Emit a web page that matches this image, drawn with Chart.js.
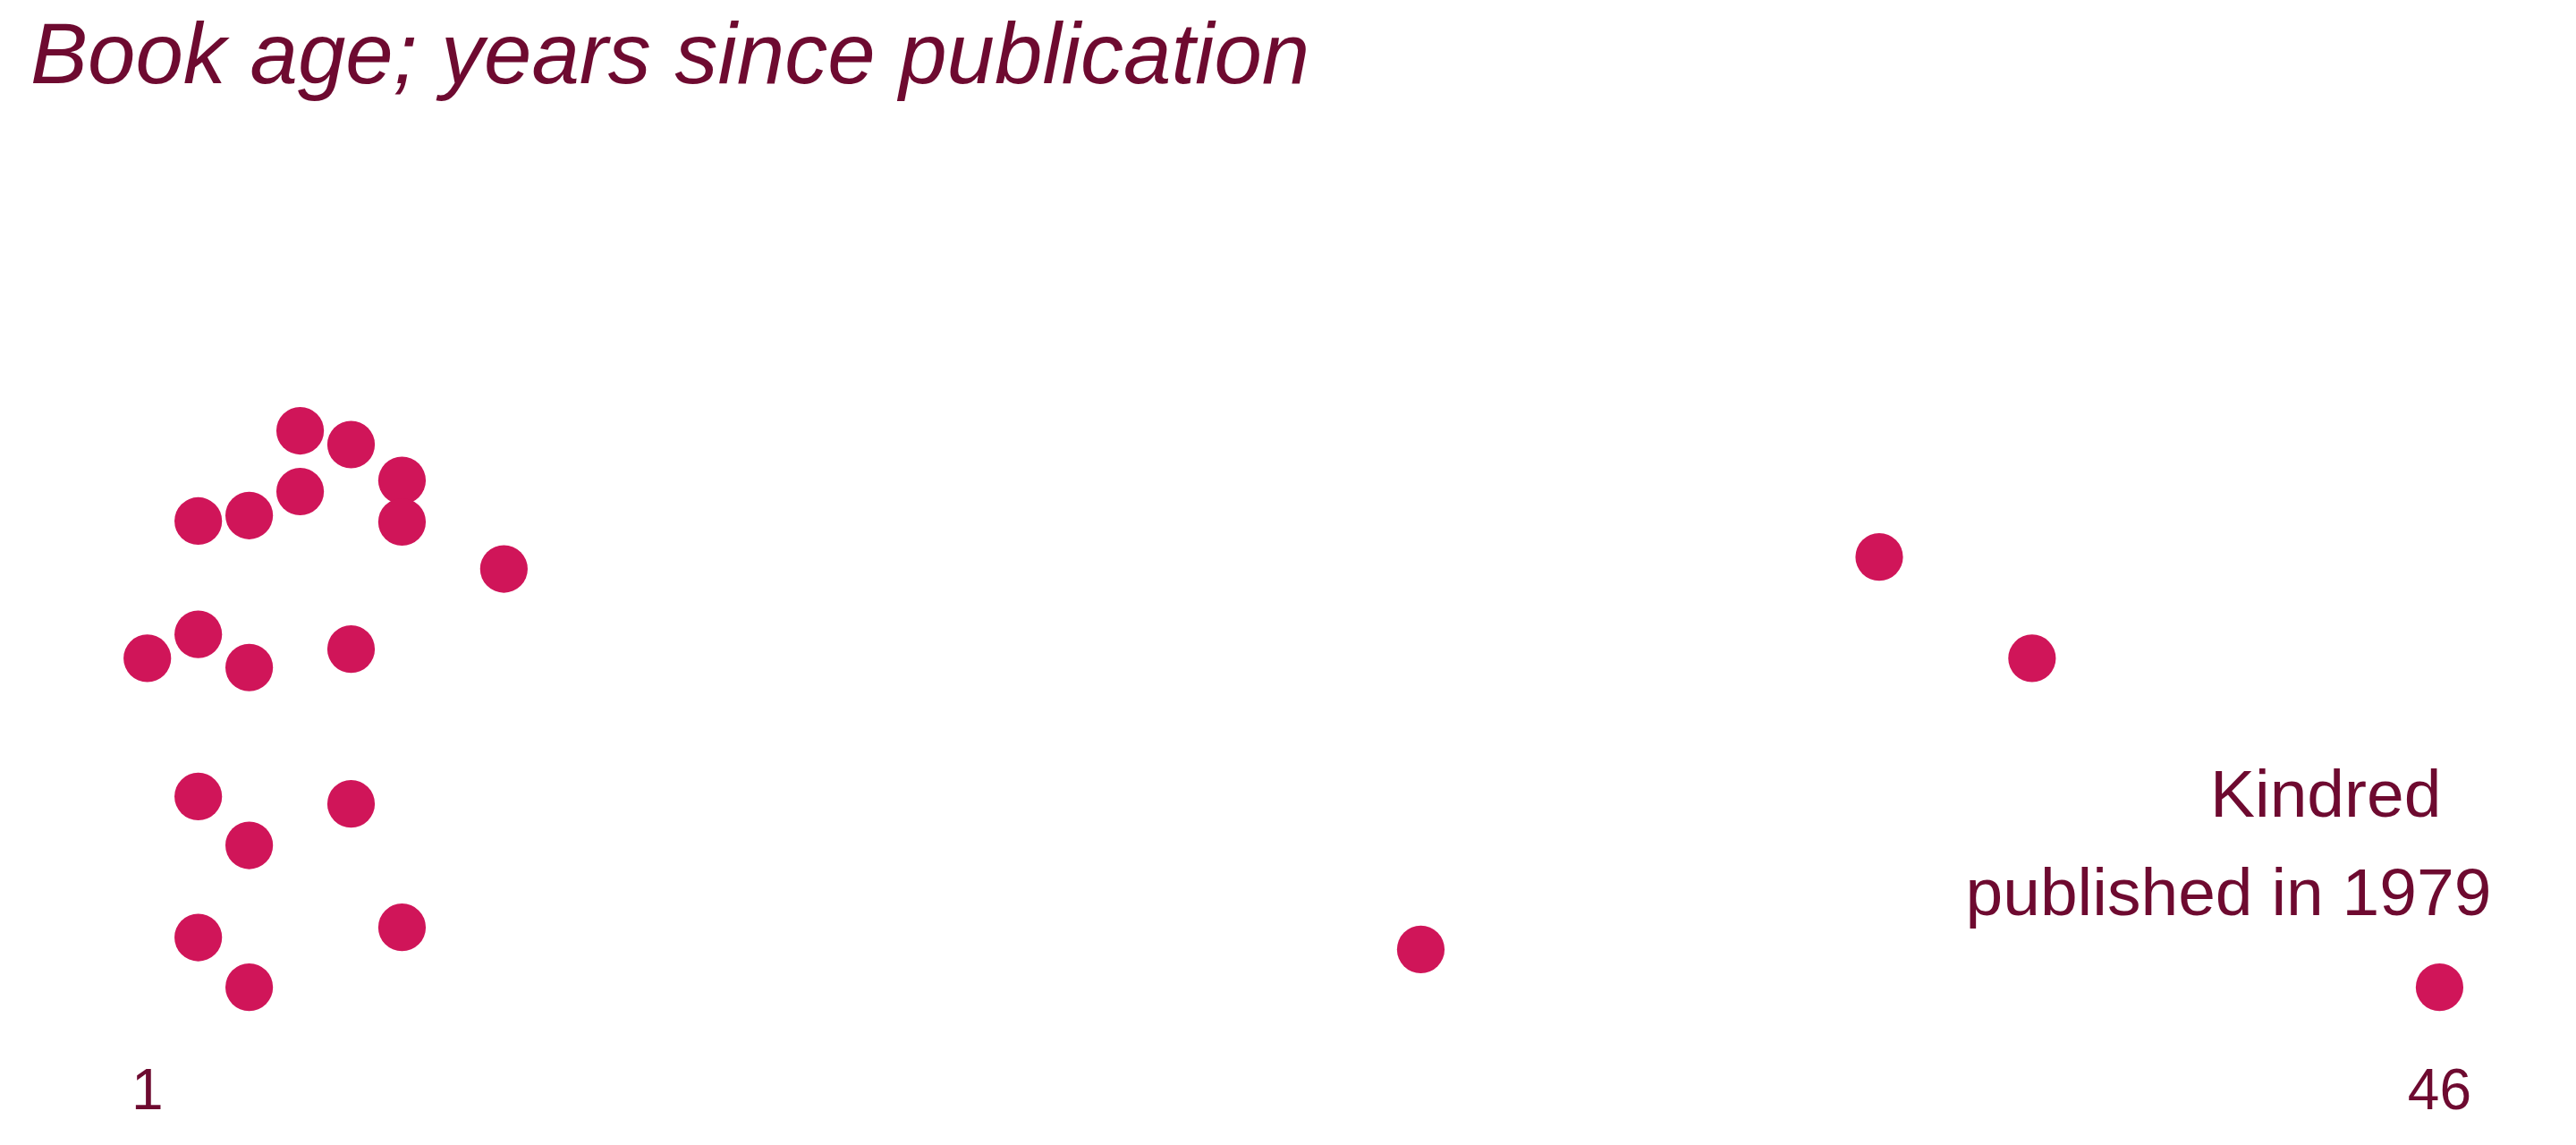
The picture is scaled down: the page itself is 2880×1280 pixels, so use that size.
<!DOCTYPE html>
<html>
<head>
<meta charset="utf-8">
<script src="https://cdn.jsdelivr.net/npm/chart.js@4.4.1/dist/chart.umd.min.js"></script>
<style>
  html, body { margin: 0; padding: 0; background: #ffffff; }
  #wrap { width: 2880px; height: 1280px; position: relative; }
</style>
</head>
<body>
<div id="wrap"><canvas id="c"></canvas></div>
<script>
// ---- data ----
const titleText = "Book age; years since publication";
const bookAges = [1, 2, 2, 2, 2, 3, 3, 3, 3, 4, 4, 5, 5, 5, 6, 6, 6, 8, 26, 35, 38, 46];
const swarmOffsets = [40.2, 55.1, 42.8, 25.2, 9.9, 55.7, 39.2, 19.9, 4.5, 64.9, 58.3, 63.4, 41.2, 24.4, 59.5, 55.0, 11.0, 49.9, 8.6, 51.2, 40.2, 4.5];
const tickValues = [1, 46];
const annotationYear = 46;
const annotationLines = ["Kindred", "published in 1979"];

const DOT = "#D01559";
const TEXT = "#6E0A30";
const FONT = "'Liberation Sans', Arial, Helvetica, sans-serif";

const points = bookAges.map((a, i) => ({ x: a, y: swarmOffsets[i] }));

const textPlugin = {
  id: 'texts',
  afterDraw(chart) {
    const ctx = chart.ctx;
    const xs = chart.scales.x;
    ctx.save();
    ctx.fillStyle = TEXT;
    ctx.textBaseline = 'alphabetic';
    // title
    ctx.font = "italic 96px " + FONT;
    ctx.textAlign = 'left';
    ctx.fillText(titleText, 34, 92.7);
    // annotation
    const px = xs.getPixelForValue(annotationYear);
    ctx.font = "75px " + FONT;
    ctx.textAlign = 'right';
    ctx.fillText(annotationLines[0], px + 2, 913);
    ctx.fillText(annotationLines[1], px + 58, 1023);
    ctx.restore();
  }
};

new Chart(document.getElementById('c'), {
  type: 'scatter',
  data: {
    datasets: [{
      data: points,
      backgroundColor: DOT,
      borderWidth: 0,
      pointRadius: 26.6,
      pointHoverRadius: 26.6,
      clip: false
    }]
  },
  options: {
    responsive: true,
    maintainAspectRatio: false,
    devicePixelRatio: 1,
    animation: false,
    events: [],
    layout: { padding: { left: 107.75, right: 95.6, top: 120, bottom: 0 } },
    plugins: {
      legend: { display: false },
      title: { display: false },
      tooltip: { enabled: false }
    },
    scales: {
      x: {
        type: 'linear',
        min: 0,
        max: 47,
        grid: { display: false, drawTicks: false },
        border: { display: false },
        afterBuildTicks: (s) => { s.ticks = tickValues.map(v => ({ value: v })); },
        afterFit: (s) => { s.height = 130; },
        ticks: {
          autoSkip: false,
          maxRotation: 0,
          padding: 33.5,
          color: TEXT,
          font: { family: FONT, size: 64, lineHeight: 1.2 },
          callback: (v) => String(v)
        }
      },
      y: {
        display: false,
        min: 0,
        max: 100
      }
    }
  },
  plugins: [textPlugin]
});
</script>
</body>
</html>
